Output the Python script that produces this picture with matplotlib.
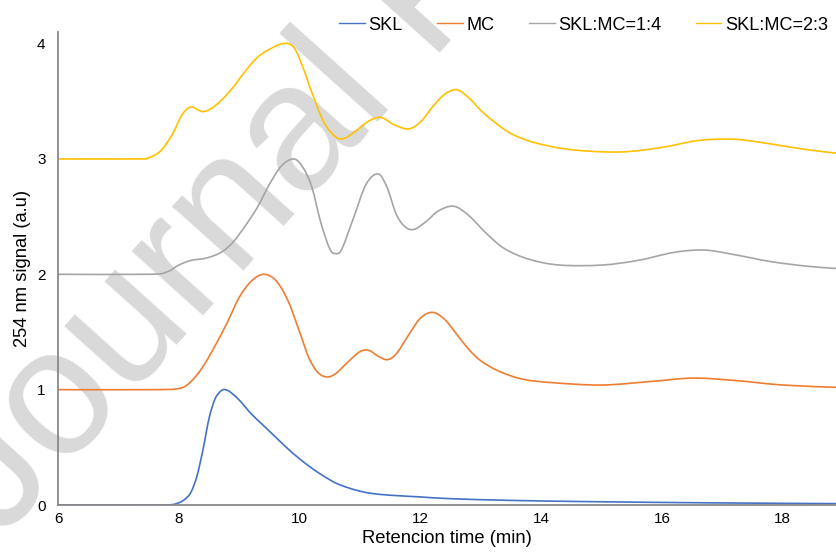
import matplotlib.pyplot as plt
from matplotlib.path import Path
from matplotlib.patches import PathPatch
from matplotlib.lines import Line2D

plt.rcParams['font.family'] = ['Liberation Sans', 'DejaVu Sans']

# retention time (min) / signal
skl_t = [6.0, 7.0, 7.8, 8.0, 8.1, 8.2, 8.3, 8.4, 8.5, 8.6, 8.7, 8.77, 8.85, 9.0, 9.2, 9.4,
         9.6, 9.8, 10.0, 10.2, 10.4, 10.6, 10.8, 11.0, 11.2, 11.5, 12.0, 12.5, 13.5, 15.0, 17.0, 18.9]
skl_y = [0.0, 0.0, 0.0, 0.02, 0.05, 0.11, 0.25, 0.48, 0.75, 0.92, 0.99, 1.0, 0.98, 0.91, 0.79, 0.69,
         0.59, 0.49, 0.40, 0.32, 0.25, 0.19, 0.15, 0.12, 0.10, 0.085, 0.07, 0.055, 0.04, 0.028, 0.018, 0.012]

mc_t = [6.0, 7.5, 8.0, 8.2, 8.4, 8.6, 8.8, 9.0, 9.2, 9.4, 9.6, 9.8, 10.0, 10.15, 10.3, 10.45,
        10.6, 10.8, 11.0, 11.15, 11.3, 11.45, 11.6, 11.8, 12.0, 12.2, 12.4, 12.6, 12.8, 13.0,
        13.3, 13.7, 14.2, 15.0, 15.8, 16.5, 17.2, 18.0, 18.9]
mc_y = [1.0, 1.0, 1.01, 1.07, 1.2, 1.38, 1.58, 1.8, 1.94, 2.0, 1.95, 1.78, 1.5, 1.28, 1.15, 1.11,
        1.14, 1.24, 1.33, 1.34, 1.29, 1.26, 1.31, 1.47, 1.62, 1.67, 1.61, 1.48, 1.35, 1.25,
        1.16, 1.09, 1.06, 1.04, 1.07, 1.1, 1.08, 1.04, 1.02]

mix14_t = [6.0, 7.5, 7.8, 8.0, 8.2, 8.45, 8.7, 8.9, 9.1, 9.3, 9.5, 9.7, 9.9, 10.05, 10.2, 10.35,
           10.5, 10.6, 10.7, 10.9, 11.1, 11.3, 11.45, 11.6, 11.75, 11.9, 12.1, 12.3, 12.55, 12.8,
           13.1, 13.4, 13.8, 14.3, 15.0, 15.6, 16.2, 16.7, 17.2, 17.8, 18.4, 18.9]
mix14_y = [2.0, 2.0, 2.02, 2.08, 2.12, 2.14, 2.19, 2.28, 2.42, 2.58, 2.78, 2.94, 3.0, 2.93, 2.76, 2.45,
           2.22, 2.18, 2.22, 2.5, 2.78, 2.87, 2.75, 2.52, 2.41, 2.39, 2.46, 2.55, 2.59, 2.51,
           2.35, 2.22, 2.13, 2.08, 2.08, 2.12, 2.19, 2.21, 2.17, 2.11, 2.07, 2.05]

mix23_t = [6.0, 7.3, 7.5, 7.7, 7.9, 8.05, 8.2, 8.4, 8.6, 8.85, 9.1, 9.3, 9.5, 9.73, 9.9, 10.05,
           10.2, 10.4, 10.6, 10.75, 10.95, 11.15, 11.35, 11.55, 11.8, 12.0, 12.2, 12.4, 12.6, 12.8,
           13.0, 13.2, 13.5, 13.9, 14.5, 15.3, 16.0, 16.6, 17.2, 17.8, 18.4, 18.9]
mix23_y = [3.0, 3.0, 3.01, 3.07, 3.22, 3.38, 3.45, 3.41, 3.46, 3.59, 3.76, 3.88, 3.95, 4.0, 3.97, 3.8,
           3.58, 3.32, 3.19, 3.18, 3.25, 3.33, 3.36, 3.3, 3.26, 3.32, 3.45, 3.56, 3.6, 3.53,
           3.42, 3.33, 3.22, 3.14, 3.08, 3.06, 3.1, 3.16, 3.17, 3.13, 3.08, 3.05]

labels = ['SKL', 'MC', 'SKL:MC=1:4', 'SKL:MC=2:3']
colors = ['#4472C4', '#ED7D31', '#A5A5A5', '#FFC000']
x_ticks = [6, 8, 10, 12, 14, 16, 18]
y_ticks = [0, 1, 2, 3, 4]


def smooth_path(t, y):
    # excel-style smoothed line: bezier segments through the points
    pts = list(zip(t, y))
    n = len(pts)
    verts = [pts[0]]
    codes = [Path.MOVETO]
    for i in range(n - 1):
        p0 = pts[max(i - 1, 0)]
        p1 = pts[i]
        p2 = pts[i + 1]
        p3 = pts[min(i + 2, n - 1)]
        c1 = (p1[0] + (p2[0] - p0[0]) / 6, p1[1] + (p2[1] - p0[1]) / 6)
        c2 = (p2[0] - (p3[0] - p1[0]) / 6, p2[1] - (p3[1] - p1[1]) / 6)
        verts += [c1, c2, p2]
        codes += [Path.CURVE4] * 3
    return Path(verts, codes)


fig = plt.figure(figsize=(8.36, 5.56), dpi=100)
ax = fig.add_axes([0.0694, 0.0917, 0.9306, 0.8507])
ax.patch.set_alpha(0)

# watermark behind the plot
fig.text(0.001, 0.028, 'Journal Pre-proof', rotation=48, rotation_mode='anchor',
         ha='left', va='baseline', fontsize=130, color='#d9d9d9', zorder=-1)

series = [(skl_t, skl_y), (mc_t, mc_y), (mix14_t, mix14_y), (mix23_t, mix23_y)]
handles = []
for (t, y), lab, c in zip(series, labels, colors):
    ax.add_patch(PathPatch(smooth_path(t, y), fill=False, edgecolor=c, lw=1.2,
                           joinstyle='round', capstyle='round'))
    handles.append(Line2D([], [], color=c, lw=1.0, label=lab))

ax.set_xlim(6, 18.88)
ax.set_ylim(0, 4.1)
ax.set_xticks(x_ticks)
ax.set_yticks(y_ticks)
ax.tick_params(length=0, labelsize=11)
ax.tick_params(axis='y', pad=9)
ax.tick_params(axis='x', pad=5)
for s in ['top', 'right']:
    ax.spines[s].set_visible(False)
for s in ['left', 'bottom']:
    ax.spines[s].set_color('#898989')
    ax.spines[s].set_linewidth(1.3)

ax.set_xlabel('Retencion time (min)', fontsize=13.2, labelpad=3)
ax.set_ylabel('254 nm signal (a.u)', fontsize=13.2, labelpad=4)

fig.legend(handles=handles, loc='center right', bbox_to_anchor=(1.010, 0.955), ncol=4,
           frameon=False, fontsize=13.1, handlelength=1.4, handletextpad=0.2,
           columnspacing=1.9)

fig.savefig('out.png', dpi=100)
